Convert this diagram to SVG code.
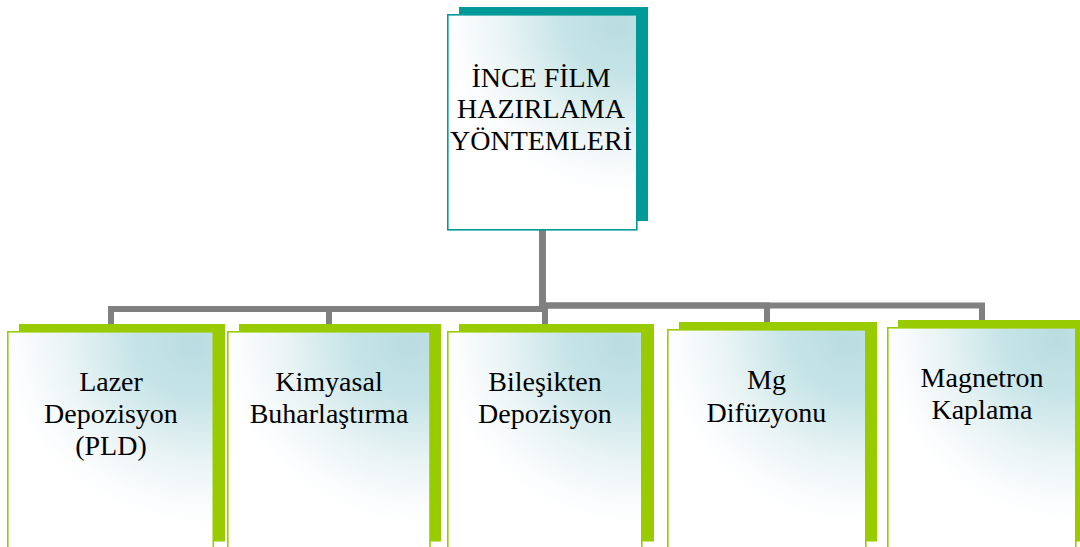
<svg xmlns="http://www.w3.org/2000/svg" width="1080" height="547" viewBox="0 0 1080 547">
<defs>
<radialGradient id="g" cx="1" cy="0" r="1" fx="0.9" fy="0.06" gradientTransform="translate(1 0) scale(1.05 0.85) translate(-1 0)">
<stop offset="0" stop-color="#BADDE1"/>
<stop offset="0.3" stop-color="#C6E4E7"/>
<stop offset="0.65" stop-color="#EAF4F5"/>
<stop offset="0.88" stop-color="#FAFCFD"/>
<stop offset="1" stop-color="#FFFFFF"/>
</radialGradient>
</defs>
<style>
.sh-t{fill:#009999}
.sh-g{fill:#99CC00}
.bx-t{fill:url(#g);stroke:#009999;stroke-width:1.6}
.bx-g{fill:url(#g);stroke:#99CC00;stroke-width:1.6}
.lbl{font-family:"Liberation Serif","Times New Roman",serif;font-size:28px;fill:#000;text-anchor:middle}
.con{fill:none;stroke:#808080;stroke-width:6;stroke-linejoin:miter}
</style>
<rect width="1080" height="547" fill="#FFFFFF"/>
<g id="connectors">
<path class="con" d="M542.5 229 V309 H111 V325"/>
<path class="con" d="M542.5 229 V309 H329 V325"/>
<path class="con" d="M542.5 229 V309 H545 V325"/>
<path class="con" d="M542.5 229 V305.5 H767 V323"/>
<path class="con" d="M542.5 229 V305.5 H982 V321"/>
</g>
<g id="root">
<rect class="sh-t" x="459" y="7" width="189" height="214"/>
<rect class="bx-t" x="447.8" y="14.8" width="189" height="215"/>
<text class="lbl" x="541" y="86.5">İNCE FİLM</text>
<text class="lbl" x="541" y="118">HAZIRLAMA</text>
<text class="lbl" x="541" y="149.5">YÖNTEMLERİ</text>
</g>
<g id="n1">
<rect class="sh-g" x="19" y="324" width="206" height="217.5"/>
<rect class="bx-g" x="7.8" y="331.8" width="205.5" height="230"/>
<text class="lbl" x="111" y="390.7">Lazer</text>
<text class="lbl" x="111" y="422.7">Depozisyon</text>
<text class="lbl" x="111" y="455">(PLD)</text>
</g>
<g id="n2">
<rect class="sh-g" x="239" y="324" width="202" height="217.5"/>
<rect class="bx-g" x="227.8" y="331.8" width="202.2" height="230"/>
<text class="lbl" x="329" y="390.7">Kimyasal</text>
<text class="lbl" x="329" y="422.7">Buharlaştırma</text>
</g>
<g id="n3">
<rect class="sh-g" x="459" y="324" width="195" height="217.5"/>
<rect class="bx-g" x="447.8" y="331.8" width="194" height="230"/>
<text class="lbl" x="545" y="390.7">Bileşikten</text>
<text class="lbl" x="545" y="422.7">Depozisyon</text>
</g>
<g id="n4">
<rect class="sh-g" x="679" y="322" width="198" height="219.5"/>
<rect class="bx-g" x="667.8" y="329.8" width="198" height="230"/>
<text class="lbl" x="766.5" y="388.5">Mg</text>
<text class="lbl" x="766.5" y="421.5">Difüzyonu</text>
</g>
<g id="n5">
<rect class="sh-g" x="898" y="320" width="185" height="221.5"/>
<rect class="bx-g" x="887.8" y="327.8" width="188" height="230"/>
<text class="lbl" x="982" y="387.3">Magnetron</text>
<text class="lbl" x="982" y="419">Kaplama</text>
</g>
</svg>
